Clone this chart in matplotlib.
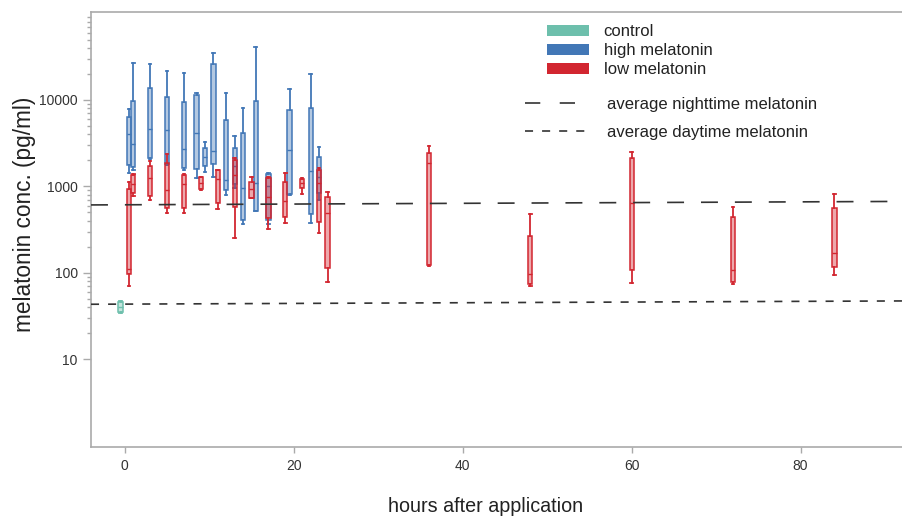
import matplotlib
matplotlib.use('Agg')
import matplotlib.pyplot as plt
from matplotlib.patches import Patch
from matplotlib.lines import Line2D
from matplotlib.ticker import FixedLocator, NullFormatter
import matplotlib.colors as mcolors

plt.rcParams['font.family'] = ['Liberation Sans', 'DejaVu Sans']
plt.rcParams['lines.scale_dashes'] = False

# ---------------- data ----------------
control_t = [-0.5]
control_whislo = [34]
control_q1 = [35]
control_med = [40]
control_q3 = [46]
control_whishi = [47]

high_t = [0.5, 1, 3, 5, 7, 8.5, 9.5, 10.5, 12, 13, 14, 15.5, 17, 19.5, 22, 23]
high_whishi = [7800, 27000, 26000, 21800, 20700, 12100, 3270, 35200, 12100, 3840, 8000, 41300, 1420, 13400, 19800, 2880]
high_q3 = [6300, 9700, 13600, 10700, 9500, 11300, 2770, 26000, 5900, 2790, 4100, 9700, 1400, 7660, 8000, 2210]
high_med = [4000, 3080, 4620, 4500, 2710, 4120, 2210, 2570, 1190, 1700, 950, 1090, 1000, 2640, 1510, 1300]
high_q1 = [1770, 1690, 2140, 1840, 1640, 1590, 1740, 1820, 910, 1070, 410, 520, 410, 810, 480, 830]
high_whislo = [1420, 1560, 2080, 1770, 1530, 1240, 1480, 1300, 800, 970, 370, 520, 370, 800, 380, 700]

low_t = [0.5, 1, 3, 5, 7, 9, 11, 13, 15, 17, 19, 21, 23, 24, 36, 48, 60, 72, 84]
low_whishi = [1140, 1400, 1970, 2380, 1400, 1300, 1550, 2120, 1280, 1300, 1440, 1240, 1620, 860, 2970, 480, 2530, 580, 810]
low_q3 = [930, 1360, 1740, 1880, 1350, 1280, 1530, 2020, 1120, 1260, 1140, 1220, 1550, 750, 2460, 270, 2150, 440, 570]
low_med = [110, 1060, 1260, 910, 1060, 1090, 1210, 1360, 930, 760, 670, 1090, 1090, 490, 1850, 97, 650, 108, 172]
low_q1 = [97, 850, 780, 570, 560, 930, 640, 580, 740, 430, 440, 970, 390, 113, 124, 74, 108, 79, 118]
low_whislo = [70, 780, 700, 490, 490, 910, 550, 250, 730, 320, 380, 820, 290, 78, 120, 70, 76, 75, 94]

night_x = [-4, 92]
night_y = [611, 671]
day_x = [-4, 92]
day_y = [43.4, 47.4]

x_ticks = [0, 20, 40, 60, 80]
y_ticks = [10, 100, 1000, 10000]
y_ticklabels = ['10', '100', '1000', '10000']

group_names = ['control', 'high melatonin', 'low melatonin']
group_colors = ['#6dbfac', '#4277b6', '#d22630']
line_names = ['average nighttime melatonin', 'average daytime melatonin']

# ---------------- figure ----------------
fig = plt.figure(figsize=(9.02, 5.18), dpi=100)
ax = fig.add_axes([91 / 902, 1 - 447 / 518, 1 - 91 / 902, (447 - 12) / 518])


def make_stats(lo, q1, med, q3, hi):
    return [dict(whislo=a, q1=b, med=c, q3=d, whishi=e, fliers=[])
            for a, b, c, d, e in zip(lo, q1, med, q3, hi)]


def draw_boxes(t, lo, q1, med, q3, hi, color, z):
    face = mcolors.to_rgba(color, 0.4)
    ax.bxp(make_stats(lo, q1, med, q3, hi), positions=t, widths=0.5,
           patch_artist=True, showfliers=False, manage_ticks=False,
           capwidths=0.3,
           boxprops=dict(facecolor=face, edgecolor=color, linewidth=1.1),
           whiskerprops=dict(color=color, linewidth=1.3),
           capprops=dict(color=color, linewidth=1.3),
           medianprops=dict(color=color, linewidth=1.0), zorder=z)


draw_boxes(control_t, control_whislo, control_q1, control_med, control_q3,
           control_whishi, group_colors[0], 3)
draw_boxes(high_t, high_whislo, high_q1, high_med, high_q3, high_whishi,
           group_colors[1], 3)
draw_boxes(low_t, low_whislo, low_q1, low_med, low_q3, low_whishi,
           group_colors[2], 4)

ax.plot(night_x, night_y, color='#333333', lw=1.2, ls=(0, (12.2, 12.2)), zorder=5)
ax.plot(day_x, day_y, color='#333333', lw=1.2, ls=(0, (5.8, 6.5)), zorder=5)

ax.set_yscale('log')
ax.set_xlim(-4, 92)
ax.set_ylim(0.97, 1.04e5)

ax.set_xticks(x_ticks)
ax.set_xticklabels([str(v) for v in x_ticks])
ax.yaxis.set_major_locator(FixedLocator(y_ticks))
ax.set_yticklabels(y_ticklabels)
minors = [m * 10 ** e for e in range(1, 5) for m in range(2, 10)]
ax.yaxis.set_minor_locator(FixedLocator(minors))
ax.yaxis.set_minor_formatter(NullFormatter())

ax.tick_params(axis='both', which='major', colors='#aaaaaa', labelcolor='#333333',
               labelsize=10, width=1.0)
ax.tick_params(axis='y', which='major', length=6)
ax.tick_params(axis='y', which='minor', length=3, width=1.0, colors='#aaaaaa')
ax.tick_params(axis='x', which='major', length=4, pad=5)
ax.tick_params(axis='x', which='minor', bottom=False)

for s in ['left', 'bottom', 'top']:
    ax.spines[s].set_color('#aaaaaa')
    ax.spines[s].set_linewidth(1.2)
ax.spines['right'].set_visible(False)

ax.set_xlabel('hours after application', fontsize=14.2, color='#222222')
ax.xaxis.set_label_coords(0.487, -0.115)
ax.set_ylabel('melatonin conc. (pg/ml)', fontsize=16.3, color='#222222')
ax.yaxis.set_label_coords(-0.068, 0.535)

# legends
patch_handles = [Patch(facecolor=c, edgecolor='none') for c in group_colors]
leg1 = fig.legend(patch_handles, group_names, loc='upper left',
                  bbox_to_anchor=(547 / 902, 1 - 24 / 518), frameon=False,
                  fontsize=12, handlelength=2.5, handleheight=0.65,
                  handletextpad=0.9, labelspacing=0.25, borderpad=0,
                  borderaxespad=0)
for t in leg1.get_texts():
    t.set_color('#222222')

line_handles = [Line2D([0], [0], color='#333333', lw=1.2, ls=(0, (11, 14))),
                Line2D([0], [0], color='#333333', lw=1.2, ls=(0, (5.8, 6.5)))]
leg2 = fig.legend(line_handles, line_names, loc='upper left',
                  bbox_to_anchor=(525 / 902, 1 - 97 / 518), frameon=False,
                  fontsize=12, handlelength=3.6, handletextpad=1.3,
                  labelspacing=0.75, borderpad=0, borderaxespad=0)
for t in leg2.get_texts():
    t.set_color('#222222')

fig.savefig('out.png', dpi=100)
